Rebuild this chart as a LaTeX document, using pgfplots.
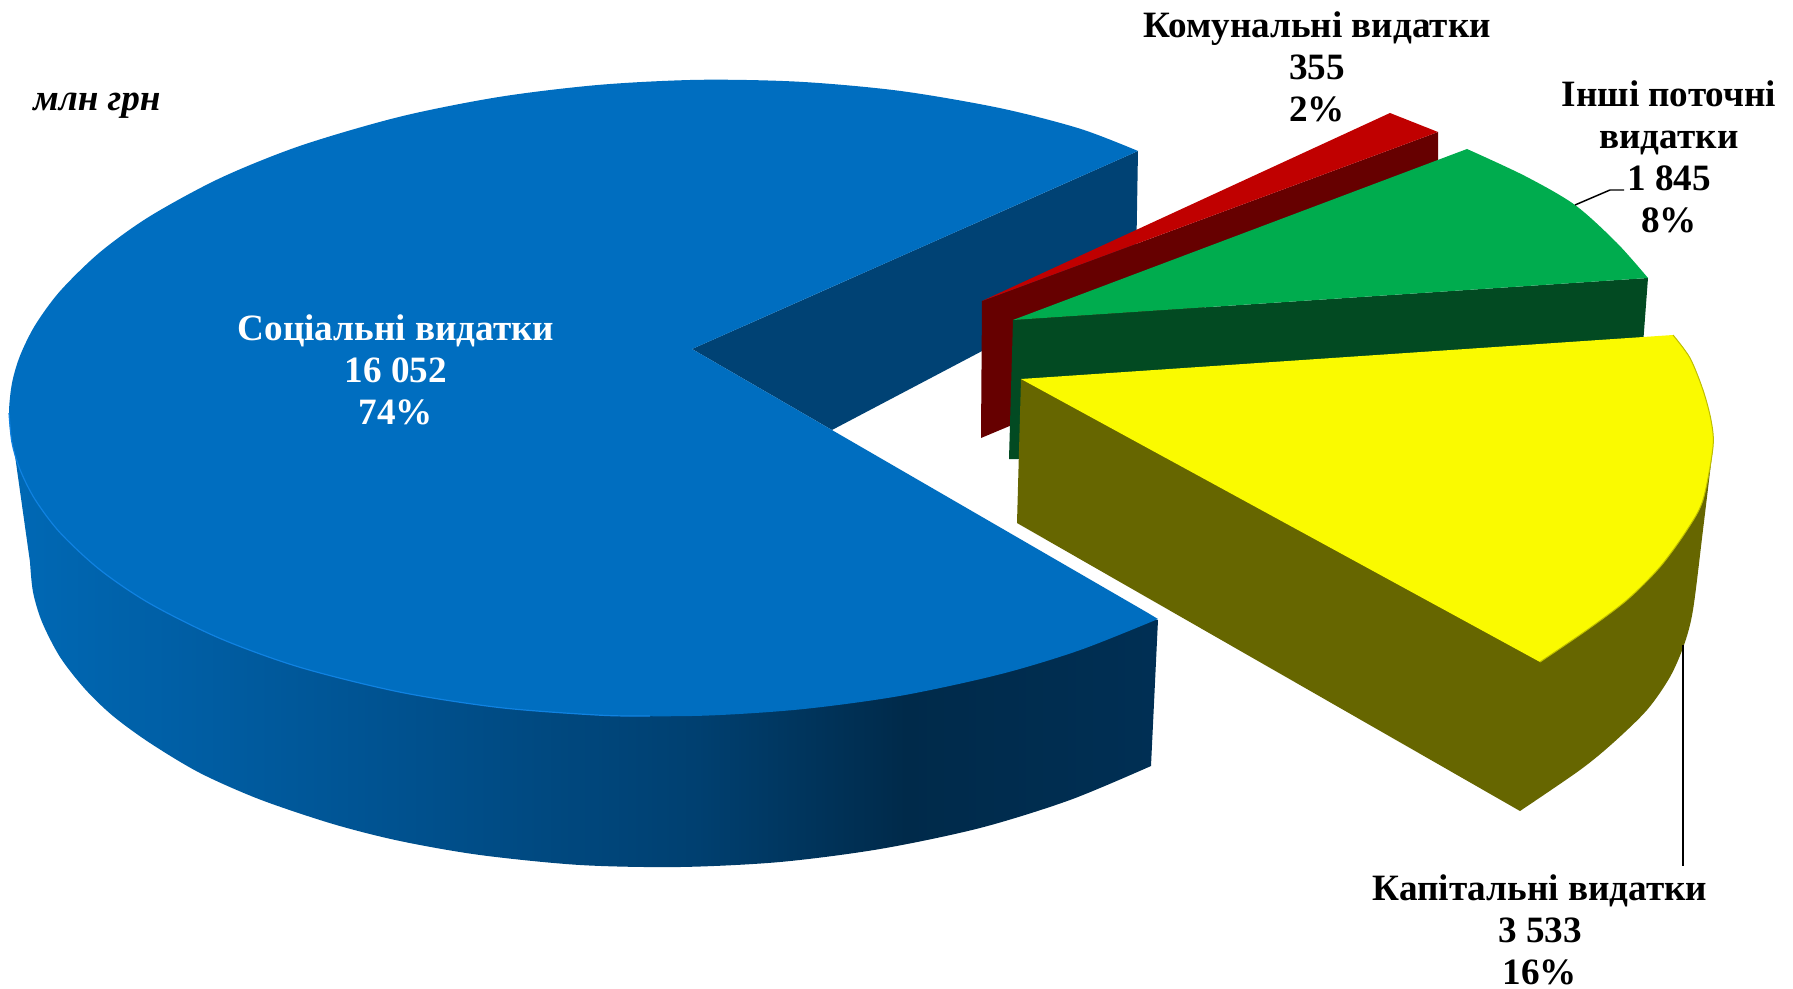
\documentclass[border=0pt]{standalone}
\usepackage{fontspec}
\setmainfont{Liberation Serif}
\usepackage{pgfplots}
\pgfplotsset{compat=1.18}

\definecolor{bluetop}{RGB}{0,110,192}
\definecolor{bluewall}{RGB}{0,66,116}
\definecolor{blueline}{RGB}{16,130,225}
\definecolor{redtop}{RGB}{192,0,0}
\definecolor{redside}{RGB}{102,0,0}
\definecolor{greentop}{RGB}{0,172,78}
\definecolor{greenside}{RGB}{2,74,34}
\definecolor{yellowtop}{RGB}{250,250,0}
\definecolor{yellowside}{RGB}{102,102,0}
\definecolor{yellowline}{RGB}{190,190,0}

% side of the big slice, dark towards the right
\pgfdeclarehorizontalshading{blueside}{100bp}{
  rgb(0bp)=(0,0.41,0.71);
  rgb(25bp)=(0,0.41,0.71);
  rgb(40bp)=(0,0.33,0.58);
  rgb(55bp)=(0,0.25,0.44);
  rgb(64bp)=(0,0.165,0.29);
  rgb(75bp)=(0,0.185,0.33);
  rgb(100bp)=(0,0.185,0.33)}

\begin{document}
\begin{tikzpicture}
\useasboundingbox (0,0) rectangle (1793bp,989bp);
\begin{axis}[
    at={(0,0)}, anchor=south west,
    scale only axis,
    width=1793bp, height=989bp,
    xmin=0, xmax=1793, ymin=0, ymax=989,
    y dir=reverse,
    hide axis,
    clip=false,
    nodes={font=\bfseries\fontsize{37.3}{42}\selectfont, align=center},
]
% inner wall of the social slice
\addplot[fill=bluewall, draw=none] coordinates {
  (1138,151) (692,349) (832,430) (1136,270) } -- cycle;

% outer wall of the social slice
\addplot[shade, shading=blueside, draw=none, smooth] coordinates {
  (30,562) (33,592) (42,622) (60,657) (85,689) (113,716) (150,743) (200,773)
  (260,799.5) (333,824) (400,841) (480,855) (580,865) (680,867) (780,862)
  (880,849) (980,828) (1070,800) (1151,766) }
  -- (1158,620) -- (800,600) -- (200,500) -- (9,413) -- cycle;

% top of the social slice
\addplot[fill=bluetop, draw=none, smooth] coordinates {
  (1138,151) (1080,128.7) (1000,108.1) (900,90.9) (800,81.8) (700,79.8)
  (600,84.8) (500,96.8) (400,116.7) (300,145.9) (220,178.2) (150,216.2)
  (100,252.2) (60,291.2) (35,325.4) (20,355.8) (12,383.1) (9,413)
  (12,442.7) (20,469.6) (35,499.4) (60,532.6) (100,569.8) (150,603.6)
  (220,638.4) (300,667.3) (400,692.1) (500,707.6) (600,715.2) (700,715.8)
  (800,709.4) (900,695.9) (1000,674.3) (1080,650.1) (1158,619) }
  -- (1148,613) -- (692,349) -- cycle;
\addplot[draw=blueline, line width=1.2pt, smooth] coordinates {
  (9,413) (12,442.7) (20,469.6) (35,499.4) (60,532.6) (100,569.8) (150,603.6)
  (220,638.4) (300,667.3) (400,692.1) (500,707.6) (600,715.2) (650,716) };

% communal slice
\addplot[fill=redside, draw=none] coordinates {
  (982,301) (1438,132) (1438,165) (1012,425) (981,438) } -- cycle;
\addplot[fill=redtop, draw=none] coordinates {
  (982,301) (1390,113) (1438,132) } -- cycle;

% other current slice
\addplot[fill=greenside, draw=none] coordinates {
  (1013,320) (1648,278) (1643,345) (1020,459) (1009,459) } -- cycle;
\addplot[fill=greentop, draw=none, smooth] coordinates {
  (1467,149) (1525,176) (1575,205) (1617,243) (1648,278) }
  -- (1013,320) -- cycle;

% capital slice
\addplot[fill=yellowside, draw=none, smooth] coordinates {
  (1713,447) (1703,530) (1693,610) (1684,645) (1670,677) (1647,710) (1613,743)
  (1580,770) (1520,811) }
  -- (1017,523) -- (1021,379) -- cycle;
\addplot[fill=yellowtop, draw=none, smooth] coordinates {
  (1673,335) (1690,358) (1703,390) (1711,420) (1713,447) (1703,500) (1687,530)
  (1660,567) (1627,600) (1587,630) (1540,662) }
  -- (1021,379) -- cycle;
\addplot[draw=yellowline, line width=1pt, smooth] coordinates {
  (1673,335) (1690,358) (1703,390) (1711,420) (1713,447) (1703,500) (1687,530)
  (1660,567) (1627,600) (1587,630) (1540,662) };

% leader lines
\addplot[draw=black, line width=1.5pt] coordinates { (1683,645) (1683,866) };
\addplot[draw=black, line width=1.5pt] coordinates { (1575,205) (1610,190) (1624,190) };

\node[text=white] at (396,370) {Соціальні видатки\\16 052\\74\%};
\node at (1317,67) {Комунальні видатки\\355\\2\%};
\node at (1669,157) {Інші поточні\\видатки\\1 845\\8\%};
\node at (1540,930) {Капітальні видатки\\3 533\\16\%};
\node[font=\bfseries\itshape\fontsize{37.3}{42}\selectfont] at (97,106) {млн грн};
\end{axis}
\end{tikzpicture}
\end{document}
